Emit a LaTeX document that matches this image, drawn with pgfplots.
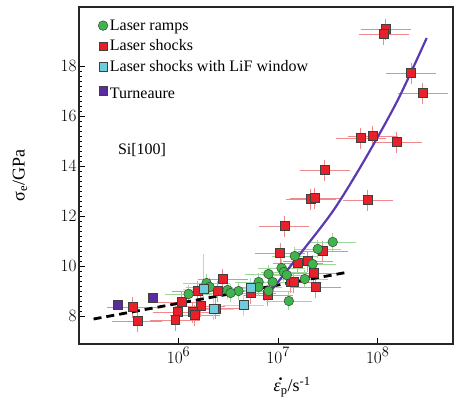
\documentclass[border=0pt]{standalone}
\usepackage{fontspec}
\setmainfont{Liberation Serif}
\usepackage{pgfplots}
\pgfplotsset{compat=1.18}
\usepackage{pgfplotstable}

\definecolor{rampgreen}{HTML}{3DB54A}
\definecolor{shockred}{HTML}{E8202A}
\definecolor{lifcyan}{HTML}{6FCCDD}
\definecolor{turnpurple}{HTML}{5B2C9F}
\definecolor{linepurple}{HTML}{5A3AB2}
\definecolor{redbar}{HTML}{EE8A8A}
\definecolor{greenbar}{HTML}{A0D89A}
\definecolor{cyanbar}{HTML}{A4DEE8}

% Laser shocks: strain rate (1/s), stress (GPa), stress error
\pgfplotstableread{
x       y      ey
1.20e8  19.48  0.30
1.15e8  19.28  0.30
2.15e8  17.72  0.30
2.83e8  16.92  0.30
6.75e7  15.12  0.30
8.90e7  15.20  0.30
1.55e8  14.96  0.30
2.93e7  13.84  0.30
2.12e7  12.68  0.30
2.33e7  12.72  0.30
7.93e7  12.64  0.30
1.16e7  11.60  0.30
1.04e7  10.52  0.30
2.80e7  10.60  0.30
1.57e7  10.12  0.30
1.98e7  10.20  0.30
2.77e6  9.48   0.30
1.55e6  9.00   0.30
2.47e6  9.00   0.30
5.30e6  8.92   0.30
7.84e6  8.84   0.30
1.34e7  9.36   0.30
1.43e7  9.36   0.30
2.27e7  9.72   0.30
2.38e7  9.16   0.30
1.07e6  8.56   0.30
1.66e6  8.40   0.30
9.80e5  8.16   0.30
1.38e6  8.16   0.30
1.45e6  8.04   0.30
9.30e5  7.84   0.30
3.45e5  8.36   0.30
3.87e5  7.80   0.30
2.36e6  8.30   0.30
}\shockdata

% Laser ramps
\pgfplotstableread{
x       y      ey
3.53e7  10.96  0.25
2.50e7  10.68  0.25
1.47e7  10.40  0.25
2.22e7  10.08  0.25
1.08e7  9.92   0.25
1.14e7  9.76   0.25
1.22e7  9.64   0.25
8.00e6  9.68   0.25
8.80e6  9.36   0.25
6.37e6  9.36   0.25
6.37e6  9.16   0.25
1.85e7  9.48   0.25
8.00e6  9.00   0.25
1.28e7  8.60   0.25
4.00e6  9.00   0.25
3.10e6  9.04   0.25
3.33e6  8.92   0.25
1.91e6  9.32   0.25
2.05e6  9.16   0.25
1.26e6  8.88   0.25
}\rampdata

% Laser shocks with LiF window
\pgfplotstableread{
x       y      eyp   eym
1.78e6  9.08   1.28  0.30
5.30e6  9.12   0.30  0.30
2.25e6  8.28   0.30  0.30
4.50e6  8.44   0.30  0.30
}\lifdata

% Turneaure
\pgfplotstableread{
x       y
2.44e5  8.44
5.50e5  8.72
}\turndata

% strain-rate symbol: italic epsilon with a dot above
\newcommand{\epsdot}{\textit{\rlap{\kern0.16em\raisebox{0.06em}{\textbf{˙}}}ε}}

\begin{document}
\begin{tikzpicture}
\begin{axis}[
  scale only axis, width=374pt, height=337pt,
  xmode=log, log basis x=10,
  xmin=1e5, xmax=5.7e8, ymin=6.88, ymax=20.36,
  axis line style={line width=1.6pt, black!85},
  tick align=inside, xtick pos=bottom, ytick pos=left,
  xtick={1e6,1e7,1e8},
  ytick={8,10,...,18}, minor y tick num=9,
  major tick length=6pt, minor tick length=3.5pt,
  tick style={line width=0.8pt, black},
  ticklabel style={font=\fontsize{19}{21}\selectfont},
  yticklabel style={xshift=1pt},
  xlabel={\epsdot\textsubscript{p}/s\textsuperscript{-1}},
  ylabel={σ\textsubscript{e}/GPa},
  label style={font=\fontsize{18}{20}\selectfont},
  xlabel style={at={(axis description cs:0.57,-0.128)}, anchor=center},
  ylabel style={at={(axis description cs:-0.158,0.5)}, anchor=center},
  legend cell align=left,
  legend style={at={(axis description cs:0.043,0.975)}, anchor=north west,
    draw=none, fill=none, font=\fontsize{16}{18}\selectfont, row sep=4.2pt},
  legend image code/.code={\draw[mark repeat=2,mark phase=2,#1]
    plot coordinates {(0pt,0pt)(6pt,0pt)(15pt,0pt)};},
]
\coordinate (ll) at (rel axis cs:0,0);
\coordinate (ur) at (rel axis cs:1,1);

% legend entries
\addlegendimage{only marks, mark=*, mark size=4.8pt, mark options={fill=rampgreen, draw=black!75, line width=0.5pt}}
\addlegendentry{Laser ramps}
\addlegendimage{only marks, mark=square*, mark size=4.3pt, mark options={fill=shockred, draw=black!75, line width=0.5pt}}
\addlegendentry{Laser shocks}
\addlegendimage{only marks, mark=square*, mark size=4.3pt, mark options={fill=lifcyan, draw=black!75, line width=0.5pt}}
\addlegendentry{Laser shocks with LiF window}
\addlegendimage{only marks, mark=square*, mark size=4.3pt, mark options={fill=turnpurple, draw=black!75, line width=0.5pt}}
\addlegendentry{\rule{0pt}{17pt}Turneaure}

% laser shocks
\addplot[forget plot, only marks, mark=square*, mark size=4.3pt,
  mark options={fill=shockred, draw=black!75, line width=0.5pt},
  error bars/.cd, x dir=both, x explicit, y dir=both, y explicit,
  error bar style={line width=0.7pt, redbar},
  error mark options={line width=0.7pt, redbar, mark size=3pt}]
  table[x=x, y=y, x error plus expr=\thisrow{x}*0.66,
        x error minus expr=\thisrow{x}*0.4, y error=ey] {\shockdata};

% laser ramps
\addplot[forget plot, only marks, mark=*, mark size=4.8pt,
  mark options={fill=rampgreen, draw=black!75, line width=0.5pt},
  error bars/.cd, x dir=both, x explicit, y dir=both, y explicit,
  error bar style={line width=0.7pt, greenbar},
  error mark options={line width=0.7pt, greenbar, mark size=3pt}]
  table[x=x, y=y, x error plus expr=\thisrow{x}*0.6,
        x error minus expr=\thisrow{x}*0.375, y error=ey] {\rampdata};

% LiF window
\addplot[forget plot, only marks, mark=square*, mark size=4.3pt,
  mark options={fill=lifcyan, draw=black!75, line width=0.5pt},
  error bars/.cd, x dir=both, x explicit, y dir=both, y explicit,
  error bar style={line width=0.7pt, cyanbar},
  error mark options={line width=0.7pt, cyanbar, mark size=3pt}]
  table[x=x, y=y, x error plus expr=\thisrow{x}*0.5,
        x error minus expr=\thisrow{x}*0.33, y error plus=eyp, y error minus=eym] {\lifdata};

% Turneaure
\addplot[forget plot, only marks, mark=square*, mark size=4.3pt,
  mark options={fill=turnpurple, draw=black!75, line width=0.5pt}]
  table[x=x, y=y] {\turndata};

% low-rate trend
\addplot[forget plot, black, line width=2.8pt, dash pattern=on 8pt off 5pt]
  coordinates {(1.4e5,7.88) (5.1e7,9.76)};

% model curve
\addplot[forget plot, linepurple, line width=2.2pt, smooth]
  coordinates {(7.15e6,8.64) (1.57e7,10.36) (3.61e7,12.24) (7.57e7,14.32) (1.59e8,16.64) (3.1e8,19.12)};

\node[anchor=west, font=\fontsize{16}{18}\selectfont] at (axis description cs:0.095,0.576) {Si[100]};
\end{axis}
\pgfresetboundingbox
\path[use as bounding box] ([shift={(-79pt,-64pt)}]ll) rectangle ([shift={(7pt,7pt)}]ur);
\end{tikzpicture}
\end{document}
